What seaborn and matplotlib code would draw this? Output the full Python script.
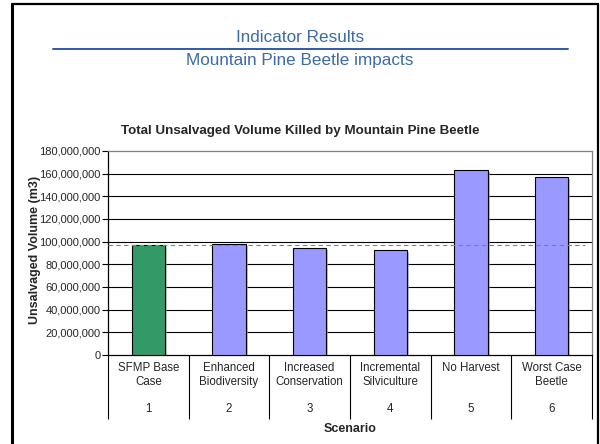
import matplotlib
matplotlib.use("Agg")
import matplotlib.pyplot as plt
import matplotlib.patheffects as pe
from matplotlib.lines import Line2D
from matplotlib.ticker import FuncFormatter, FixedLocator
import seaborn as sns
import pandas as pd

# Scenario data
scenario_names = ["SFMP Base\nCase", "Enhanced\nBiodiversity", "Increased\nConservation",
                  "Incremental\nSilviculture", "No Harvest", "Worst Case\nBeetle"]
scenario_numbers = ["1", "2", "3", "4", "5", "6"]
unsalvaged_volume = [96.8e6, 98.2e6, 94.6e6, 92.8e6, 163.4e6, 157.0e6]
base_case_level = 96.8e6
bar_colors = ["#339966", "#9999FF", "#9999FF", "#9999FF", "#9999FF", "#9999FF"]

df = pd.DataFrame({"Scenario": scenario_names, "Volume": unsalvaged_volume})

sns.set_theme(style="white")
plt.rcParams["font.family"] = ["Liberation Sans", "DejaVu Sans"]

fig = plt.figure(figsize=(6.0, 4.44), dpi=100)
ax = fig.add_axes([0.18, 0.2005, 0.8067, 0.4595])

sns.barplot(data=df, x="Scenario", y="Volume", hue="Scenario", palette=bar_colors,
            legend=False, width=0.41, edgecolor="black", linewidth=0.8,
            saturation=1, ax=ax, zorder=3)
for p in ax.patches:
    p.set_path_effects([pe.SimplePatchShadow(offset=(1.5, -1.5), shadow_rgbFace="#999999", alpha=0.6),
                        pe.Normal()])

# Reference line at the base case level
ax.axhline(base_case_level, xmin=0.0, xmax=0.985, color="#808080", lw=0.8,
           ls=(0, (4, 3)), zorder=4)

ax.set_ylim(0, 180e6)
ax.set_xlim(-0.5, 5.5)
ax.set_yticks(range(0, 180_000_001, 20_000_000))
ax.yaxis.set_major_formatter(FuncFormatter(lambda v, _: f"{int(v):,}"))
ax.tick_params(axis="y", direction="out", length=4, width=0.8, color="black",
               labelsize=8, pad=1.5, left=True)
for y in range(20_000_000, 180_000_000, 20_000_000):
    ax.axhline(y, color="black", lw=0.8, zorder=1)

# Category labels, with separators drawn as long minor ticks
ax.set_xticks(range(len(scenario_names)))
ax.set_xticklabels(scenario_names, fontsize=8.3, linespacing=1.25, va="top")
ax.tick_params(axis="x", which="major", length=0, pad=5)
ax.xaxis.set_minor_locator(FixedLocator([i - 0.5 for i in range(len(scenario_names) + 1)]))
ax.tick_params(axis="x", which="minor", direction="out", length=46, width=0.8,
               color="black", bottom=True)
for i, num in enumerate(scenario_numbers):
    ax.text(i, -0.265, num, transform=ax.get_xaxis_transform(), ha="center",
            va="center", fontsize=8.3)

ax.set_xlabel("")
ax.set_ylabel("Unsalvaged Volume (m3)", fontsize=9, fontweight="bold")
ax.yaxis.set_label_coords(-0.138, 0.515)
fig.text(350 / 600, 1 - 429 / 444, "Scenario", ha="center", va="center",
         fontsize=9, fontweight="bold")

for side in ["left", "bottom"]:
    ax.spines[side].set_color("black")
    ax.spines[side].set_linewidth(0.9)
for side in ["top", "right"]:
    ax.spines[side].set_color("#808080")
    ax.spines[side].set_linewidth(0.9)
ax.set_facecolor("white")

# Chart title and slide headings
fig.text(0.5, 1 - 131 / 444, "Total Unsalvaged Volume Killed by Mountain Pine Beetle",
         ha="center", va="center", fontsize=9.6, fontweight="bold")
heading_font = ["Liberation Sans Narrow", "Liberation Sans", "DejaVu Sans"]
fig.text(0.5, 1 - 37 / 444, "Indicator Results", ha="center", va="center",
         fontsize=12.3, color="#3C6BA5", family=heading_font)
fig.text(0.5, 1 - 60 / 444, "Mountain Pine Beetle impacts", ha="center", va="center",
         fontsize=12.3, color="#3C6BA5", family=heading_font)
fig.add_artist(Line2D([53 / 600, 568 / 600], [1 - 49 / 444] * 2, color="#2E5AA8", lw=1.4))

# Slide frame
fig.add_artist(Line2D([11.5 / 600] * 2, [0, 1 - 4 / 444], color="black", lw=2.2))
fig.add_artist(Line2D([11.5 / 600, 598 / 600], [1 - 4 / 444] * 2, color="black", lw=1.6))
fig.add_artist(Line2D([598 / 600] * 2, [0, 1 - 4 / 444], color="black", lw=1.6))

fig.savefig("out.png", dpi=100, facecolor="white")
